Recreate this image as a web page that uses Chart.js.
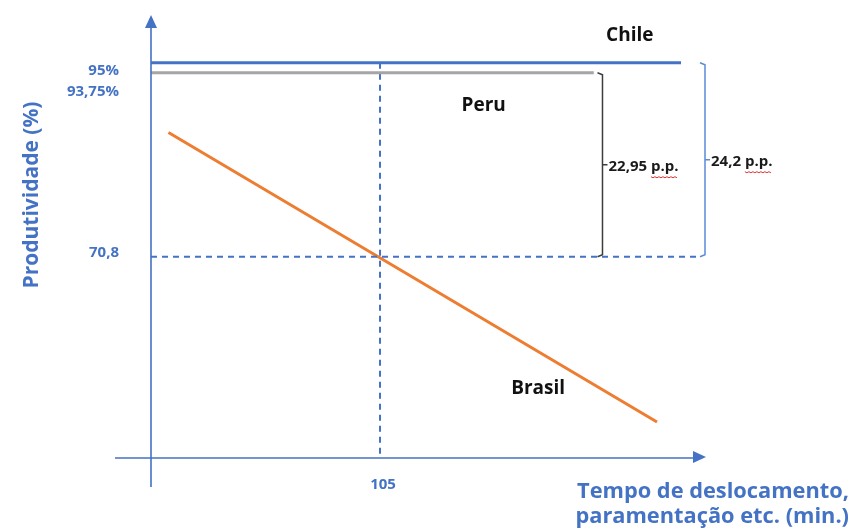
<!DOCTYPE html>
<html lang="pt-BR">
<head>
<meta charset="utf-8">
<title>Produtividade x Tempo de deslocamento</title>
<script src="https://cdn.jsdelivr.net/npm/chart.js@4/dist/chart.umd.min.js"></script>
<style>
  html, body { margin: 0; padding: 0; background: #ffffff; }
  #wrap { width: 853px; height: 529px; position: relative; }
</style>
</head>
<body>
<div id="wrap"><canvas id="c" width="853" height="529"></canvas></div>
<script>
// ---- data ----
const countries = ['Chile', 'Peru', 'Brasil'];
const chileLine = [{ x: 0, y: 95 }, { x: 243, y: 95 }];
const peruLine = [{ x: 0, y: 93.75 }, { x: 203, y: 93.75 }];
const brasilLine = [{ x: 8, y: 86.3 }, { x: 232, y: 50.2 }];
const yTickValues = [95, 93.75, 70.8];
const yTickLabels = ['95%', '93,75%', '70,8'];
const xTickValues = [105];
const xTickLabels = ['105'];
const refX = 105;       // vertical dashed reference
const refY = 70.8;      // horizontal dashed reference
// label anchors for each country (data space)
const countryLabelAnchors = [{ x: 219.5, y: 98.4 }, { x: 152.5, y: 89.6 }, { x: 177.5, y: 54.3 }];
// gap brackets: top value -> bottom value at a given x
const gapBrackets = [
  { x: 207, top: 93.75, bottom: 70.8, color: '#3c3c3c' },
  { x: 254, top: 95, bottom: 70.8, color: '#5b8bd6' }
];

const BLUE = '#4472c4';
const FONT = '"Open Sans", "DejaVu Sans", sans-serif';

function fmtPP(v) {
  return String(Math.round(v * 100) / 100).replace('.', ',') + ' p.p.';
}

// axes, arrows, labels and brackets drawn on top of the plotted lines
const annotate = {
  id: 'annotate',
  afterDatasetsDraw(chart) {
    const ctx = chart.ctx;
    const xs = chart.scales.x, ys = chart.scales.y;
    const a = chart.chartArea;
    ctx.save();

    // axes
    ctx.strokeStyle = BLUE;
    ctx.lineWidth = 1.6;
    ctx.beginPath();
    ctx.moveTo(a.left, a.bottom + 29);
    ctx.lineTo(a.left, a.top + 10);
    ctx.moveTo(a.left - 36, a.bottom);
    ctx.lineTo(a.right - 10, a.bottom);
    ctx.stroke();
    ctx.fillStyle = BLUE;
    ctx.beginPath();
    ctx.moveTo(a.left, a.top - 2);
    ctx.lineTo(a.left - 6, a.top + 11);
    ctx.lineTo(a.left + 6, a.top + 11);
    ctx.closePath();
    ctx.fill();
    ctx.beginPath();
    ctx.moveTo(a.right + 1, a.bottom - 1);
    ctx.lineTo(a.right - 12, a.bottom - 7);
    ctx.lineTo(a.right - 12, a.bottom + 5);
    ctx.closePath();
    ctx.fill();

    // y tick labels
    const yLabelShift = [8, 19, -4];
    ctx.font = 'bold 15px ' + FONT;
    ctx.textAlign = 'right';
    ctx.textBaseline = 'middle';
    yTickValues.forEach((v, i) => {
      ctx.fillText(yTickLabels[i], a.left - 32, ys.getPixelForValue(v) + yLabelShift[i]);
    });
    // x tick labels
    ctx.textAlign = 'center';
    xTickValues.forEach((v, i) => {
      ctx.fillText(xTickLabels[i], xs.getPixelForValue(v) + 3, a.bottom + 27);
    });

    // axis titles
    ctx.font = 'bold 21px ' + FONT;
    ctx.save();
    ctx.translate(32, 195);
    ctx.rotate(-Math.PI / 2);
    ctx.textAlign = 'center';
    ctx.fillText('Produtividade (%)', 0, 0);
    ctx.restore();
    ctx.font = 'bold 21.8px ' + FONT;
    ctx.textAlign = 'right';
    ctx.fillText('Tempo de deslocamento,', 849, 492);
    ctx.fillText('paramentação etc. (min.)', 849, 517);

    // country labels
    ctx.fillStyle = '#111111';
    ctx.font = 'bold 19px ' + FONT;
    ctx.textAlign = 'center';
    countries.forEach((name, i) => {
      const p = countryLabelAnchors[i];
      ctx.fillText(name, xs.getPixelForValue(p.x), ys.getPixelForValue(p.y));
    });

    // gap brackets
    gapBrackets.forEach(b => {
      const bx = xs.getPixelForValue(b.x);
      const yt = ys.getPixelForValue(b.top);
      const yb = ys.getPixelForValue(b.bottom);
      const ym = (yt + yb) / 2;
      ctx.strokeStyle = b.color;
      ctx.lineWidth = 1.5;
      ctx.beginPath();
      ctx.moveTo(bx - 5, yt);
      ctx.lineTo(bx, yt + 2);
      ctx.lineTo(bx, yb - 2);
      ctx.lineTo(bx - 5, yb);
      ctx.moveTo(bx, ym);
      ctx.lineTo(bx + 5, ym);
      ctx.stroke();
      const txt = fmtPP(b.top - b.bottom);
      ctx.font = 'bold 15px ' + FONT;
      ctx.fillStyle = '#1a1a1a';
      ctx.textAlign = 'left';
      ctx.textBaseline = 'middle';
      const tx = bx + 6;
      ctx.fillText(txt, tx, ym + 2);
      // spell-check squiggle beneath "p.p."
      const full = ctx.measureText(txt).width;
      const pp = ctx.measureText('p.p.').width;
      ctx.strokeStyle = '#e03030';
      ctx.lineWidth = 1;
      ctx.beginPath();
      for (let sx = tx + full - pp, k = 0; sx <= tx + full; sx += 2, k++) {
        const sy = ym + 12 + (k % 2 ? 1 : 0);
        if (k === 0) ctx.moveTo(sx, sy); else ctx.lineTo(sx, sy);
      }
      ctx.stroke();
    });

    ctx.restore();
  }
};

function build() {
  new Chart(document.getElementById('c'), {
    type: 'scatter',
    data: {
      datasets: [
        { label: 'Chile', data: chileLine, showLine: true, borderColor: BLUE, borderWidth: 3, pointRadius: 0 },
        { label: 'Peru', data: peruLine, showLine: true, borderColor: '#a5a5a5', borderWidth: 3, pointRadius: 0 },
        { label: 'ref-x', data: [{ x: refX, y: 95 }, { x: refX, y: 45.7 }], showLine: true, borderColor: BLUE, borderWidth: 2, borderDash: [6, 5], pointRadius: 0 },
        { label: 'ref-y', data: [{ x: 0, y: refY }, { x: 252, y: refY }], showLine: true, borderColor: BLUE, borderWidth: 2, borderDash: [6, 5], pointRadius: 0 },
        { label: 'Brasil', data: brasilLine, showLine: true, borderColor: '#ed7d31', borderWidth: 3, pointRadius: 0 }
      ]
    },
    options: {
      responsive: false,
      animation: false,
      layout: { padding: { left: 151, top: 17, right: 148, bottom: 71 } },
      scales: {
        x: { type: 'linear', min: 0, max: 254, display: false },
        y: { type: 'linear', min: 45.7, max: 100.7, display: false }
      },
      plugins: { legend: { display: false }, tooltip: { enabled: false } }
    },
    plugins: [annotate]
  });
}

Promise.all([
  document.fonts.load('bold 19px "Open Sans"'),
  document.fonts.load('bold 12px "Open Sans"')
]).then(build, build);
</script>
</body>
</html>
